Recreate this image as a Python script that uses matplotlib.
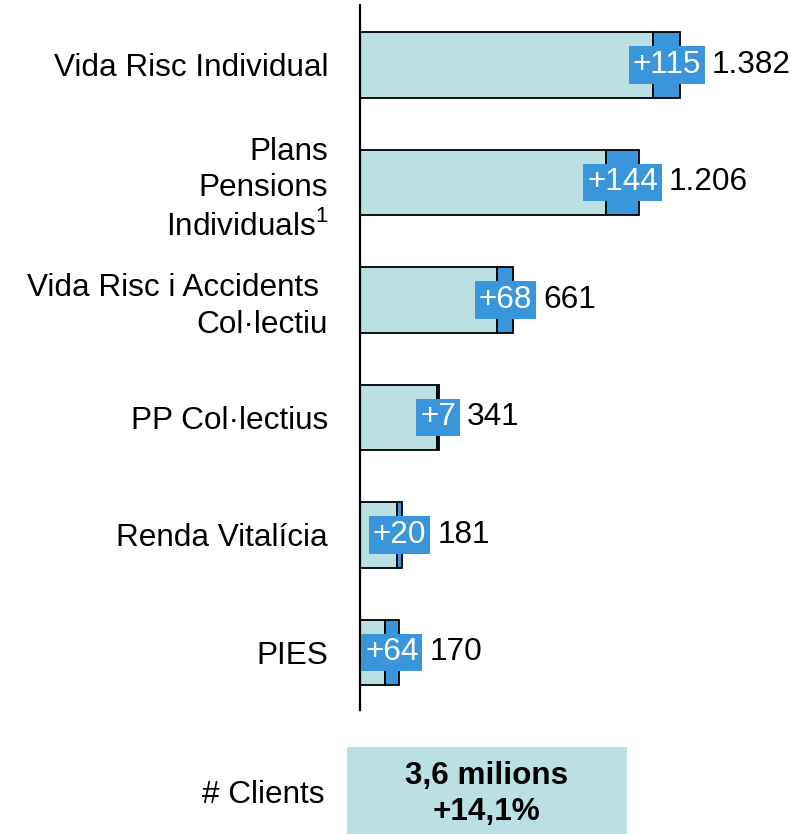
import matplotlib.pyplot as plt
from matplotlib.patches import Rectangle
import numpy as np

plt.rcParams["font.family"] = ["Liberation Sans", "DejaVu Sans"]

categories = [
    "Vida Risc Individual",
    "Plans\nPensions\nIndividuals$^{1}$",
    "Vida Risc i Accidents \nCol\u00b7lectiu",
    "PP Col\u00b7lectius",
    "Renda Vital\u00edcia",
    "PIES",
]
totals = np.array([1382, 1206, 661, 341, 181, 170])
increases = np.array([115, 144, 68, 7, 20, 64])
total_labels = ["1.382", "1.206", "661", "341", "181", "170"]
clients_label = "3,6 milions\n+14,1%"

light = "#bbe0e3"
blue = "#3996db"
fs = 22.7

plt.rcParams["mathtext.fontset"] = "custom"
plt.rcParams["mathtext.rm"] = "Liberation Sans"

W, H = 806, 834
fig = plt.figure(figsize=(W / 100, H / 100), dpi=100)
ax = fig.add_axes([360 / W, (H - 710) / H, (W - 360) / W, 705 / H])

y = np.arange(len(categories))
base = totals - increases
ax.barh(y, base, height=0.56, color=light, edgecolor="black", linewidth=1.3)
ax.barh(y, increases, left=base, height=0.56, color=blue, edgecolor="black", linewidth=1.3)

ax.set_xlim(0, 1927)
ax.set_ylim(5.49, -0.51)
for s in ["top", "right", "bottom"]:
    ax.spines[s].set_visible(False)
ax.spines["left"].set_linewidth(1.6)
ax.set_xticks([])
ax.set_yticks(y)
ax.set_yticklabels(categories, fontsize=fs, linespacing=1.27)
ax.tick_params(axis="y", length=0, pad=23)

for yi, b, inc, lab in zip(y, base, increases, total_labels):
    t = ax.text(b + inc / 2, yi, f"+{inc}", ha="center", va="center",
                fontsize=fs, color="white",
                bbox=dict(boxstyle="square,pad=0.12", facecolor=blue, edgecolor="none"))
    ax.annotate(lab, xy=(1, 0.5), xycoords=t, xytext=(8, 0),
                textcoords="offset points", ha="left", va="center", fontsize=fs)

fig.patches.append(Rectangle((347 / W, 0), 280 / W, (H - 747) / H,
                             transform=fig.transFigure, facecolor=light,
                             edgecolor="none"))
fig.text(487 / W, (H - 794) / H, clients_label, ha="center", va="center",
         fontsize=fs, fontweight="bold", linespacing=1.25)
fig.text(325 / W, (H - 795) / H, "# Clients", ha="right", va="center", fontsize=fs)

fig.savefig("out.png", dpi=100)
